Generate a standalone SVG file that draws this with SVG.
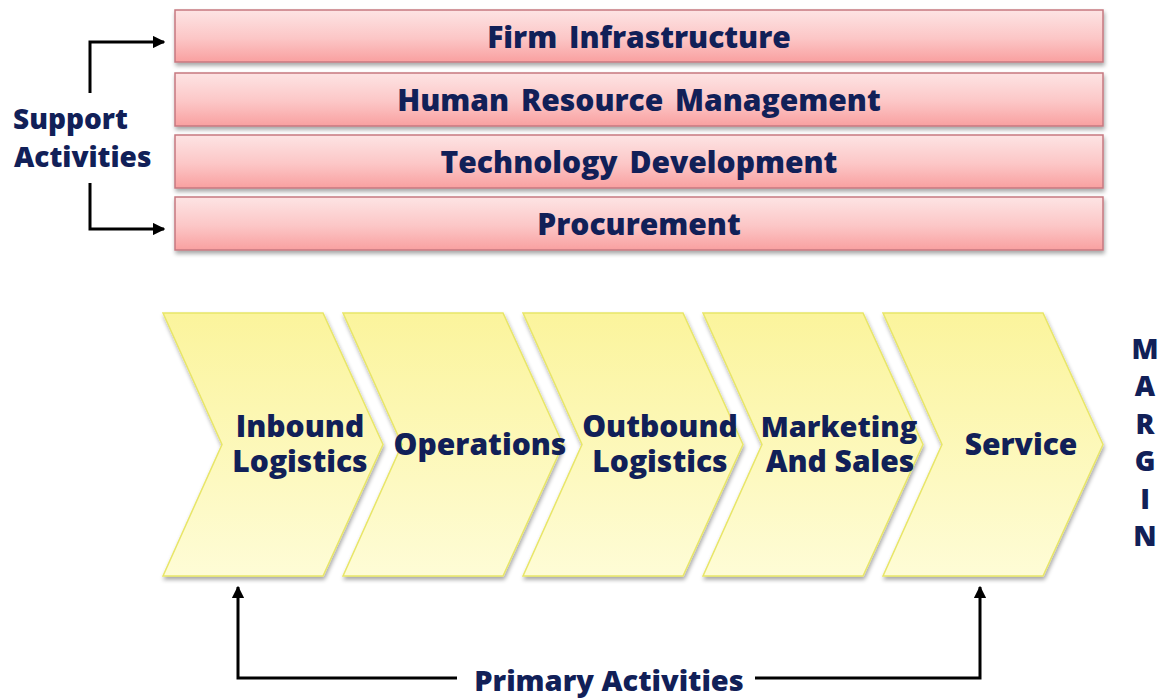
<svg xmlns="http://www.w3.org/2000/svg" width="1163" height="700" viewBox="0 0 1163 700">
  <defs>
    <linearGradient id="barFill" x1="0" y1="0" x2="0" y2="1">
      <stop offset="0" stop-color="#fde4e4"/>
      <stop offset="0.55" stop-color="#fcc6c6"/>
      <stop offset="1" stop-color="#f9a0a0"/>
    </linearGradient>
    <linearGradient id="chevFill" x1="0" y1="0" x2="0" y2="1">
      <stop offset="0" stop-color="#fbf49c"/>
      <stop offset="1" stop-color="#fefcd6"/>
    </linearGradient>
    <filter id="shadow" x="-5%" y="-10%" width="110%" height="130%">
      <feGaussianBlur in="SourceAlpha" stdDeviation="2"/>
      <feOffset dx="1" dy="3" result="off"/>
      <feComponentTransfer><feFuncA type="linear" slope="0.35"/></feComponentTransfer>
      <feMerge><feMergeNode/><feMergeNode in="SourceGraphic"/></feMerge>
    </filter>
    <marker id="arrow" viewBox="0 0 10 10" refX="9" refY="5" markerWidth="4.2" markerHeight="4.2" orient="auto" markerUnits="strokeWidth">
      <path d="M0,0 L10,5 L0,10 z" fill="#000"/>
    </marker>
    <style>
      .bar { fill: url(#barFill); stroke: #c67880; stroke-width: 1.5; filter: url(#shadow); }
      .chev { fill: url(#chevFill); stroke: #e8e668; stroke-width: 1.5; filter: url(#shadow); }
      .lbl { font-family: "Open Sans", "Noto Sans", "DejaVu Sans", sans-serif; font-weight: 800; fill: #112058; text-anchor: middle; }
      .bartxt { font-size: 30px; word-spacing: 4px; }
      .chevtxt { font-size: 30px; }
      .side { font-size: 28px; text-anchor: start; }
      .margin { font-size: 28px; }
      .conn { fill: none; stroke: #000; stroke-width: 3; marker-end: url(#arrow); }
    </style>
  </defs>

  <!-- support activities: four horizontal bars -->
  <g id="firm-infrastructure">
    <rect class="bar" x="175" y="10" width="928" height="52"/>
    <text class="lbl bartxt" x="639" y="48">Firm Infrastructure</text>
  </g>
  <g id="human-resource-management">
    <rect class="bar" x="175" y="73" width="928" height="53"/>
    <text class="lbl bartxt" x="639" y="111">Human Resource Management</text>
  </g>
  <g id="technology-development">
    <rect class="bar" x="175" y="135" width="928" height="53"/>
    <text class="lbl bartxt" x="639" y="173">Technology Development</text>
  </g>
  <g id="procurement">
    <rect class="bar" x="175" y="197" width="928" height="53"/>
    <text class="lbl bartxt" x="639" y="235">Procurement</text>
  </g>

  <g id="support-activities">
    <text class="lbl side" x="13" y="129">Support</text>
    <text class="lbl side" x="14" y="167">Activities</text>
  </g>

  <!-- primary activities: chevrons, 180px pitch -->
  <g id="inbound-logistics">
    <path class="chev" d="M163,313 H323 L383,444.5 L323,576 H163 L222,444.5 Z"/>
    <text class="lbl chevtxt" x="300" y="437">Inbound</text>
    <text class="lbl chevtxt" x="300" y="472">Logistics</text>
  </g>
  <g id="operations">
    <path class="chev" d="M343,313 H503 L563,444.5 L503,576 H343 L402,444.5 Z"/>
    <text class="lbl chevtxt" x="480" y="455">Operations</text>
  </g>
  <g id="outbound-logistics">
    <path class="chev" d="M523,313 H683 L743,444.5 L683,576 H523 L582,444.5 Z"/>
    <text class="lbl chevtxt" x="660" y="437">Outbound</text>
    <text class="lbl chevtxt" x="660" y="472">Logistics</text>
  </g>
  <g id="marketing-and-sales">
    <path class="chev" d="M703,313 H863 L923,444.5 L863,576 H703 L762,444.5 Z"/>
    <text class="lbl chevtxt" x="839" y="437" style="font-size:29px">Marketing</text>
    <text class="lbl chevtxt" x="840" y="472">And Sales</text>
  </g>
  <g id="service">
    <path class="chev" d="M883,313 H1043 L1103,444.5 L1043,576 H883 L942,444.5 Z"/>
    <text class="lbl chevtxt" x="1021" y="455">Service</text>
  </g>

  <g id="margin">
    <text class="lbl margin" x="1145" y="359">M</text>
    <text class="lbl margin" x="1145" y="396">A</text>
    <text class="lbl margin" x="1145" y="434">R</text>
    <text class="lbl margin" x="1145" y="471">G</text>
    <text class="lbl margin" x="1145" y="509">I</text>
    <text class="lbl margin" x="1145" y="546">N</text>
  </g>

  <g id="primary-activities">
    <text class="lbl" style="font-size:29px" x="609" y="691">Primary Activities</text>
  </g>

  <!-- connectors -->
  <g id="connectors">
    <path class="conn" d="M90,93 V42 H164"/>
    <path class="conn" d="M90,183 V229 H164"/>
    <path class="conn" d="M457,678 H238 V587"/>
    <path class="conn" d="M755,678 H980 V587"/>
  </g>
</svg>
